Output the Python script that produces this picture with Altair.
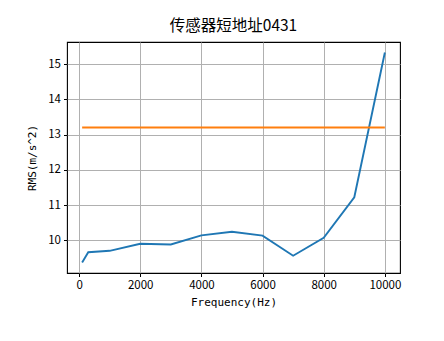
import altair as alt
import pandas as pd

freq = [100, 300, 1000, 2000, 3000, 4000, 5000, 6000, 7000, 8000, 9000, 10000]
rms = [9.37, 9.66, 9.70, 9.90, 9.88, 10.14, 10.24, 10.13, 9.56, 10.07, 11.22, 15.33]
thr_freq = [100, 10000]
thr_val = [13.2, 13.2]
x_ticks = [0, 2000, 4000, 6000, 8000, 10000]
y_ticks = [10, 11, 12, 13, 14, 15]

df = pd.DataFrame({"f": freq, "v": rms})
dt = pd.DataFrame({"f": thr_freq, "v": thr_val})

xs = alt.Scale(domain=[-395, 10495], nice=False, zero=False)
ys = alt.Scale(domain=[9.07, 15.63], nice=False, zero=False)

xax = alt.Axis(values=x_ticks, title="Frequency(Hz)", grid=True, format="d")
yax = alt.Axis(values=y_ticks, title="RMS(m/s^2)", grid=True, format="d")

line1 = alt.Chart(df).mark_line(color="#1f77b4", strokeWidth=1.9, clip=True).encode(
    x=alt.X("f:Q", scale=xs, axis=xax),
    y=alt.Y("v:Q", scale=ys, axis=yax),
)
line2 = alt.Chart(dt).mark_line(color="#ff7f0e", strokeWidth=1.9, clip=True).encode(
    x=alt.X("f:Q", scale=xs),
    y=alt.Y("v:Q", scale=ys),
)

chart = (
    alt.layer(line1, line2)
    .properties(
        width=333,
        height=231,
        title=alt.TitleParams("传感器短地址0431", font="Noto Sans CJK SC", fontSize=15.5,
                              fontWeight="normal", color="black", offset=8),
        autosize=alt.AutoSizeParams(type="none"),
        padding={"left": 67, "top": 42, "right": 44, "bottom": 68},
        background="white",
    )
    .configure_view(stroke="black", strokeWidth=1.1)
    .configure_axis(
        gridColor="#b0b0b0",
        gridWidth=1.0,
        domain=False,
        tickColor="black",
        tickSize=3.5,
        tickWidth=1.0,
        labelFont="Noto Sans CJK SC",
        labelFontSize=11.5,
        labelColor="black",
        labelPadding=3,
        titleFont="DejaVu Sans Mono",
        titleFontSize=11,
        titleFontWeight="normal",
        titleColor="black",
    )
    .configure_axisX(titlePadding=5)
    .configure_axisY(titlePadding=10)
)

chart.save("out.html", embed_options={"renderer": "svg", "actions": False})
